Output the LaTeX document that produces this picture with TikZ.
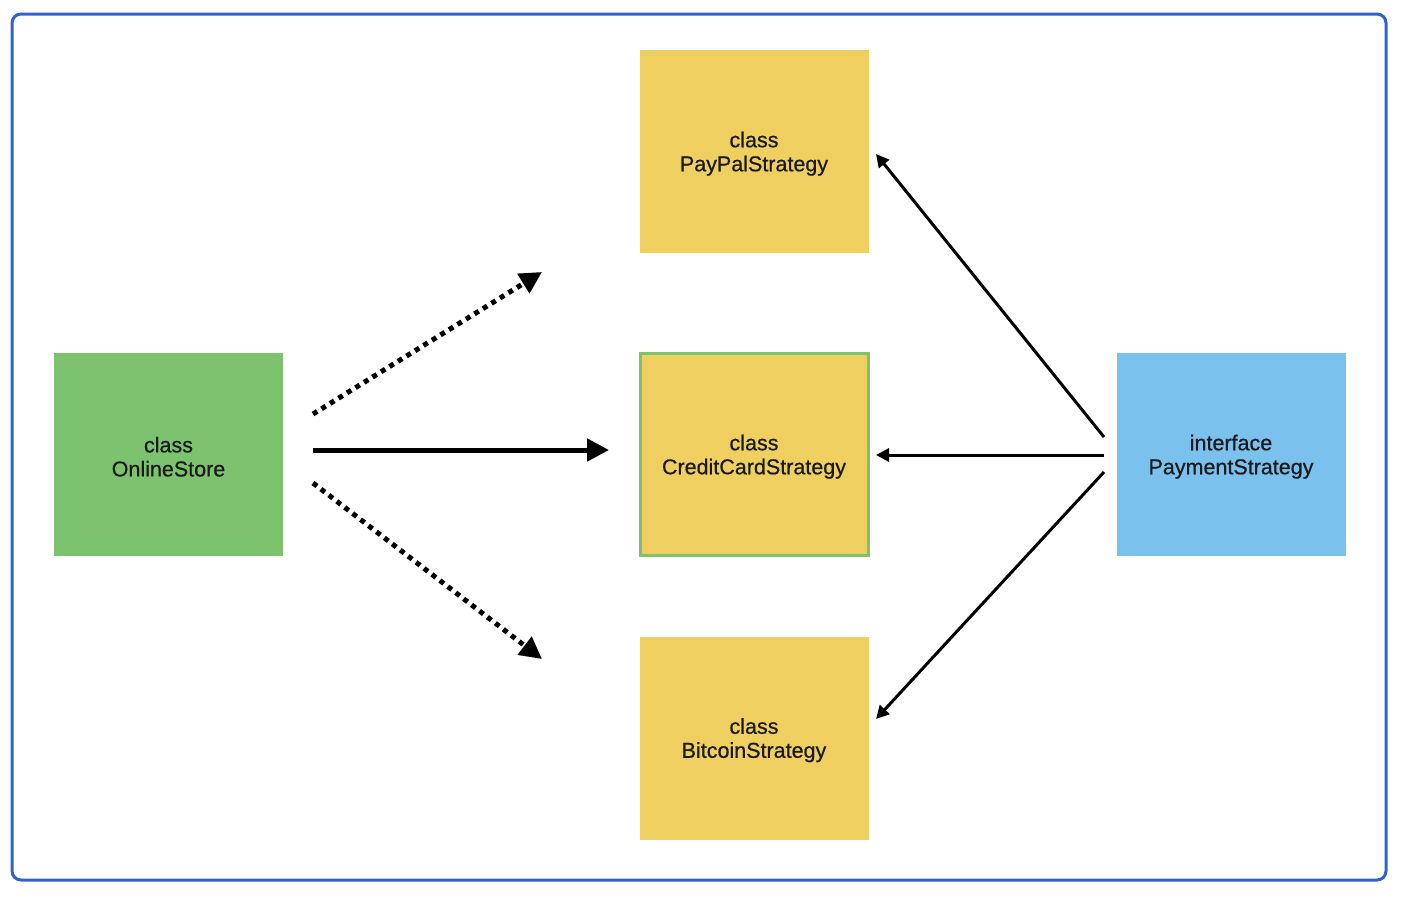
\documentclass[tikz,border=0pt]{standalone}
\usepackage{fontspec}
\setmainfont{Liberation Sans}
\newfontfamily\boxfont{Liberation Sans}[FakeBold=0.6]
\usetikzlibrary{arrows.meta}
\definecolor{frameblue}{HTML}{2F62CC}
\definecolor{boxgreen}{HTML}{7DC26F}
\definecolor{boxyellow}{HTML}{EFCF60}
\definecolor{boxblue}{HTML}{7BC1EE}
\definecolor{textdark}{HTML}{1A1A1A}
\begin{document}
\begin{tikzpicture}[x=1pt,y=-1pt,
  box/.style={draw=none,minimum width=229pt,minimum height=203pt,inner sep=0pt,
    align=center,font=\boxfont\fontsize{21.5}{24}\selectfont,text=textdark},
  thickarrow/.style={line width=5pt,-{Triangle[length=22pt,width=22pt]}},
  dotarrow/.style={line width=5pt,dash pattern=on 5pt off 5pt,-{Triangle[length=22pt,width=22pt]}},
  thinarrow/.style={line width=3pt,-{Triangle[length=13pt,width=13pt]}}]
\useasboundingbox (0,0) rectangle (1404,900);
\draw[frameblue,line width=3pt,rounded corners=9pt] (12,14) rectangle (1386,880);
\node[box,fill=boxgreen] (store) at (168.5,454.5) {\rule{0pt}{20pt}class\\OnlineStore};
\node[box,fill=boxyellow] (paypal) at (754,151.5) {\rule{0pt}{20pt}class\\PayPalStrategy};
\node[box,fill=boxyellow,draw=boxgreen,line width=3pt,minimum width=228pt,minimum height=202pt] (credit) at (754,454.5) {\rule{0pt}{20pt}class\\CreditCardStrategy};
\node[box,fill=boxyellow] (bitcoin) at (754,738) {\rule{0pt}{20pt}class\\BitcoinStrategy};
\node[box,fill=boxblue] (payment) at (1231,454.5) {\rule{0pt}{20pt}interface\\PaymentStrategy};
\coordinate (s1) at (313,414);
\coordinate (e1) at (542,272);
\coordinate (s2) at (313,450);
\coordinate (e2) at (609,450);
\coordinate (s3) at (313,483);
\coordinate (e3) at (542,659);
\coordinate (p1) at (1104,437);
\coordinate (q1) at (876,154);
\coordinate (p2) at (1104,455);
\coordinate (q2) at (876,455);
\coordinate (p3) at (1104,472);
\coordinate (q3) at (876,719);
\draw[dotarrow] (s1) -- (e1);
\draw[thickarrow] (s2) -- (e2);
\draw[dotarrow] (s3) -- (e3);
\draw[thinarrow] (p1) -- (q1);
\draw[thinarrow] (p2) -- (q2);
\draw[thinarrow] (p3) -- (q3);
\end{tikzpicture}
\end{document}
